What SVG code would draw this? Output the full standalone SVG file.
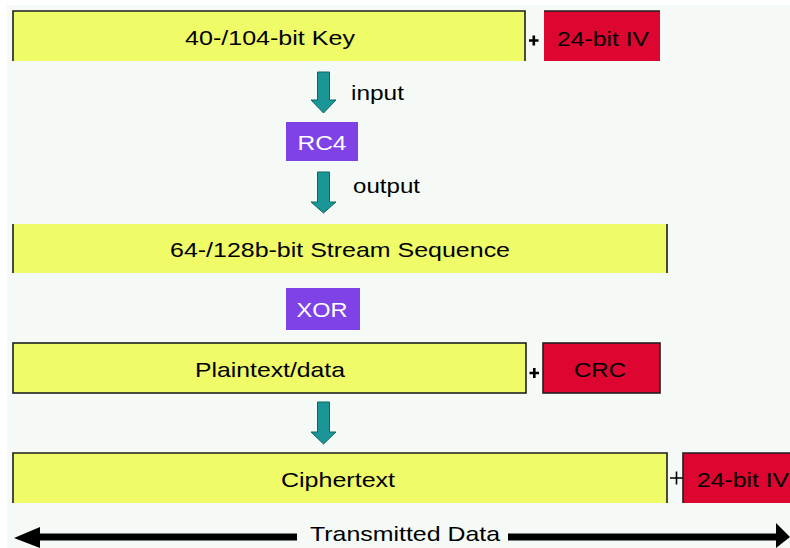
<svg xmlns="http://www.w3.org/2000/svg" width="790" height="548" viewBox="0 0 790 548">
<style>
.y{fill:#f0fb68}
.r{fill:#dc0630}
.p{fill:#7e42e6}
.b{fill:none;stroke:#1e1e1e;stroke-width:1.6}
.t{font-family:"Liberation Sans",Arial,sans-serif;font-size:21px;fill:#000}
.w{fill:#fff}
.tl{fill:#1a9696;stroke:#0e6464;stroke-width:1}
.plus{fill:none;stroke:#000;stroke-width:2.6}
</style>
<rect x="0" y="0" width="790" height="548" fill="#ffffff"/>
<rect x="7" y="5" width="783" height="543" fill="#f5faf7"/>

<g id="key">
<rect class="y" x="13" y="11" width="512" height="50"/>
<path class="b" d="M13,61 V11 H525 V61"/>
<text class="t" x="270" y="45" text-anchor="middle" textLength="170" lengthAdjust="spacingAndGlyphs">40-/104-bit Key</text>
</g>
<path class="plus" d="M529,40.5 H538.5 M533.8,35.5 V45.5"/>
<g id="iv1">
<rect class="r" x="544" y="11" width="116" height="50"/>
<path class="b" d="M544,11 H660"/>
<text class="t" x="603" y="46" text-anchor="middle" textLength="92" lengthAdjust="spacingAndGlyphs">24-bit IV</text>
</g>

<g id="rc4">
<rect class="p" x="286" y="122" width="72" height="39"/>
<text class="t w" x="322" y="150" text-anchor="middle" textLength="49" lengthAdjust="spacingAndGlyphs">RC4</text>
</g>

<g id="stream">
<rect class="y" x="13" y="224" width="655" height="49"/>
<path class="b" d="M13,224 V273 M667,224 V273"/>
<text class="t" x="340" y="257" text-anchor="middle" textLength="340" lengthAdjust="spacingAndGlyphs">64-/128b-bit Stream Sequence</text>
</g>

<g id="xor">
<rect class="p" x="286" y="288" width="74" height="42"/>
<text class="t w" x="322" y="317" text-anchor="middle" textLength="51" lengthAdjust="spacingAndGlyphs">XOR</text>
</g>

<g id="plaintext">
<rect class="y" x="13" y="343" width="513" height="50"/>
<rect class="b" x="13" y="343" width="513" height="50"/>
<text class="t" x="270" y="377" text-anchor="middle" textLength="150" lengthAdjust="spacingAndGlyphs">Plaintext/data</text>
</g>
<path class="plus" d="M529.5,373 H539 M534.3,368 V378"/>
<g id="crc">
<rect class="r" x="543" y="343" width="117" height="50"/>
<rect class="b" x="543" y="343" width="117" height="50"/>
<text class="t" x="600" y="377" text-anchor="middle" textLength="52" lengthAdjust="spacingAndGlyphs">CRC</text>
</g>

<g id="ciphertext">
<rect class="y" x="13" y="453" width="654" height="50"/>
<path class="b" d="M13,503 V453 H667 V503"/>
<text class="t" x="338" y="487" text-anchor="middle" textLength="114" lengthAdjust="spacingAndGlyphs">Ciphertext</text>
</g>
<path d="M670,478 H683 M676.5,471.5 V484.5" stroke="#000" stroke-width="1.6" fill="none"/>
<g id="iv2">
<rect class="r" x="683" y="453" width="107" height="50"/>
<path class="b" d="M683,503 V453 H790"/>
<text class="t" x="697" y="487" textLength="92" lengthAdjust="spacingAndGlyphs">24-bit IV</text>
</g>

<g id="connectors">
<polygon class="tl" points="317.5,72 329.5,72 329.5,100 336,100 323.5,113 311,100 317.5,100"/>
<polygon class="tl" points="317.5,172 329.5,172 329.5,202 336,202 323.5,213 311,202 317.5,202"/>
<polygon class="tl" points="317.5,402 329.5,402 329.5,432 336,432 323.5,444 311,432 317.5,432"/>
<text class="t" x="351" y="100" font-size="19" textLength="53" lengthAdjust="spacingAndGlyphs">input</text>
<text class="t" x="353" y="193" font-size="19" textLength="67" lengthAdjust="spacingAndGlyphs">output</text>
<path d="M38,537 H297 M508,537 H778" stroke="#000" stroke-width="7" fill="none"/>
<polygon points="14,538 40,527 40,548" fill="#000"/>
<polygon points="790,537 776,523 776,548" fill="#000"/>
<text class="t" x="310" y="541" textLength="190" lengthAdjust="spacingAndGlyphs">Transmitted Data</text>
</g>
</svg>
